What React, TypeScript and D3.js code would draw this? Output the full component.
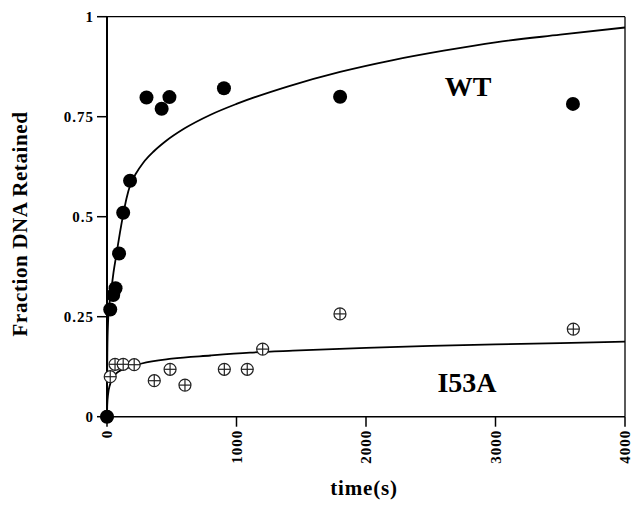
import React from "react";
import * as d3 from "d3";

const wtTimes = [0, 25, 48, 66, 93, 125, 178, 305, 422, 482, 903, 1800, 3598];
const wtValues = [0, 0.268, 0.304, 0.321, 0.408, 0.51, 0.59, 0.798, 0.77, 0.799, 0.821, 0.8, 0.782];

const i53Times = [0, 25, 62, 125, 210, 365, 487, 602, 906, 1083, 1202, 1799, 3601];
const i53Values = [0, 0.1, 0.131, 0.131, 0.13, 0.09, 0.1185, 0.079, 0.1185, 0.1185, 0.169, 0.257, 0.219];

const wtFitTimes = [0, 1, 3, 8, 15, 25, 36, 50, 75, 100, 125, 150, 180, 220, 280, 360, 450, 600, 800, 1000, 1400, 1800, 2200, 2600, 3000, 3500, 4000];
const wtFitValues = [0, 0.1, 0.17, 0.235, 0.27, 0.3, 0.325, 0.36, 0.41, 0.46, 0.505, 0.545, 0.58, 0.606, 0.635, 0.663, 0.688, 0.721, 0.755, 0.782, 0.826, 0.862, 0.891, 0.915, 0.936, 0.955, 0.973];

const i53FitTimes = [0, 2, 8, 23, 45, 62, 90, 120, 165, 268, 500, 800, 1104, 1436, 2000, 2500, 3000, 3500, 4000];
const i53FitValues = [0, 0.03, 0.055, 0.08, 0.097, 0.105, 0.113, 0.118, 0.1225, 0.133, 0.145, 0.153, 0.16, 0.165, 0.172, 0.177, 0.181, 0.184, 0.1875];

const xTicks = [0, 1000, 2000, 3000, 4000];
const yTicks = [0, 0.25, 0.5, 0.75, 1];
const yTickLabels = ["0", "0.25", "0.5", "0.75", "1"];

const FONT = "'Liberation Serif', 'Times New Roman', serif";

export default function App() {
  const x = d3.scaleLinear().domain([0, 4000]).range([107, 625]);
  const y = d3.scaleLinear().domain([0, 1]).range([416.7, 16.7]);
  const line = d3
    .line<[number, number]>()
    .x((d) => x(d[0]))
    .y((d) => y(d[1]))
    .curve(d3.curveMonotoneX);
  const wtFit = line(wtFitTimes.map((t, i) => [t, wtFitValues[i]]));
  const i53Fit = line(i53FitTimes.map((t, i) => [t, i53FitValues[i]]));
  const r2 = 6;
  return (
    <svg
      width={640}
      height={525}
      style={{ position: "absolute", left: 0, top: 0, background: "#fff" }}
      fontFamily={FONT}
    >
      <rect x={0} y={0} width={640} height={525} fill="#fff" />
      {/* frame */}
      <line x1={x(0)} x2={x(4000)} y1={y(1)} y2={y(1)} stroke="#000" strokeWidth={1.3} />
      <line x1={x(4000)} x2={x(4000)} y1={y(1)} y2={y(0)} stroke="#000" strokeWidth={1.3} />
      <line x1={x(0)} x2={x(4000)} y1={y(0)} y2={y(0)} stroke="#000" strokeWidth={1.6} />
      <line x1={x(0)} x2={x(0)} y1={y(1)} y2={y(0)} stroke="#000" strokeWidth={2} />
      {/* y ticks */}
      {yTicks.map((v, i) => (
        <g key={"y" + i}>
          <line x1={x(0) - 10} x2={x(0)} y1={y(v)} y2={y(v)} stroke="#000" strokeWidth={1.5} />
          <text
            x={x(0) - 13}
            y={y(v)}
            dy="0.35em"
            textAnchor="end"
            fontSize={15}
            fontWeight="bold"
            letterSpacing={1}
          >
            {yTickLabels[i]}
          </text>
        </g>
      ))}
      {/* x ticks */}
      {xTicks.map((v, i) => (
        <g key={"x" + i}>
          <line x1={x(v)} x2={x(v)} y1={y(0)} y2={y(0) + 10} stroke="#000" strokeWidth={1.5} />
          <text
            transform={`translate(${x(v)},${y(0) + 13}) rotate(-90)`}
            dy="0.35em"
            textAnchor="end"
            fontSize={15}
            fontWeight="bold"
            letterSpacing={1}
          >
            {String(v)}
          </text>
        </g>
      ))}
      {/* fits */}
      <path d={wtFit || ""} fill="none" stroke="#000" strokeWidth={1.8} />
      <path d={i53Fit || ""} fill="none" stroke="#000" strokeWidth={1.8} />
      {/* I53A points */}
      {i53Times.map((t, i) => (
        <g key={"i" + i} stroke="#222" strokeWidth={1.2} fill="#fff">
          <circle cx={x(t)} cy={y(i53Values[i])} r={r2} />
          <line x1={x(t) - r2} x2={x(t) + r2} y1={y(i53Values[i])} y2={y(i53Values[i])} />
          <line x1={x(t)} x2={x(t)} y1={y(i53Values[i]) - r2} y2={y(i53Values[i]) + r2} />
        </g>
      ))}
      {/* WT points */}
      {wtTimes.map((t, i) => (
        <circle key={"w" + i} cx={x(t)} cy={y(wtValues[i])} r={7} fill="#000" />
      ))}
      {/* labels */}
      <text x={468} y={96} textAnchor="middle" fontSize={28} fontWeight="bold">
        WT
      </text>
      <text x={467} y={392} textAnchor="middle" fontSize={28} fontWeight="bold">
        I53A
      </text>
      <text x={364} y={495} textAnchor="middle" fontSize={21} fontWeight="bold" letterSpacing={0.8}>
        time(s)
      </text>
      <text
        transform={`translate(27,${224}) rotate(-90)`}
        textAnchor="middle"
        fontSize={21}
        fontWeight="bold"
        letterSpacing={0.6}
      >
        Fraction DNA Retained
      </text>
    </svg>
  );
}
